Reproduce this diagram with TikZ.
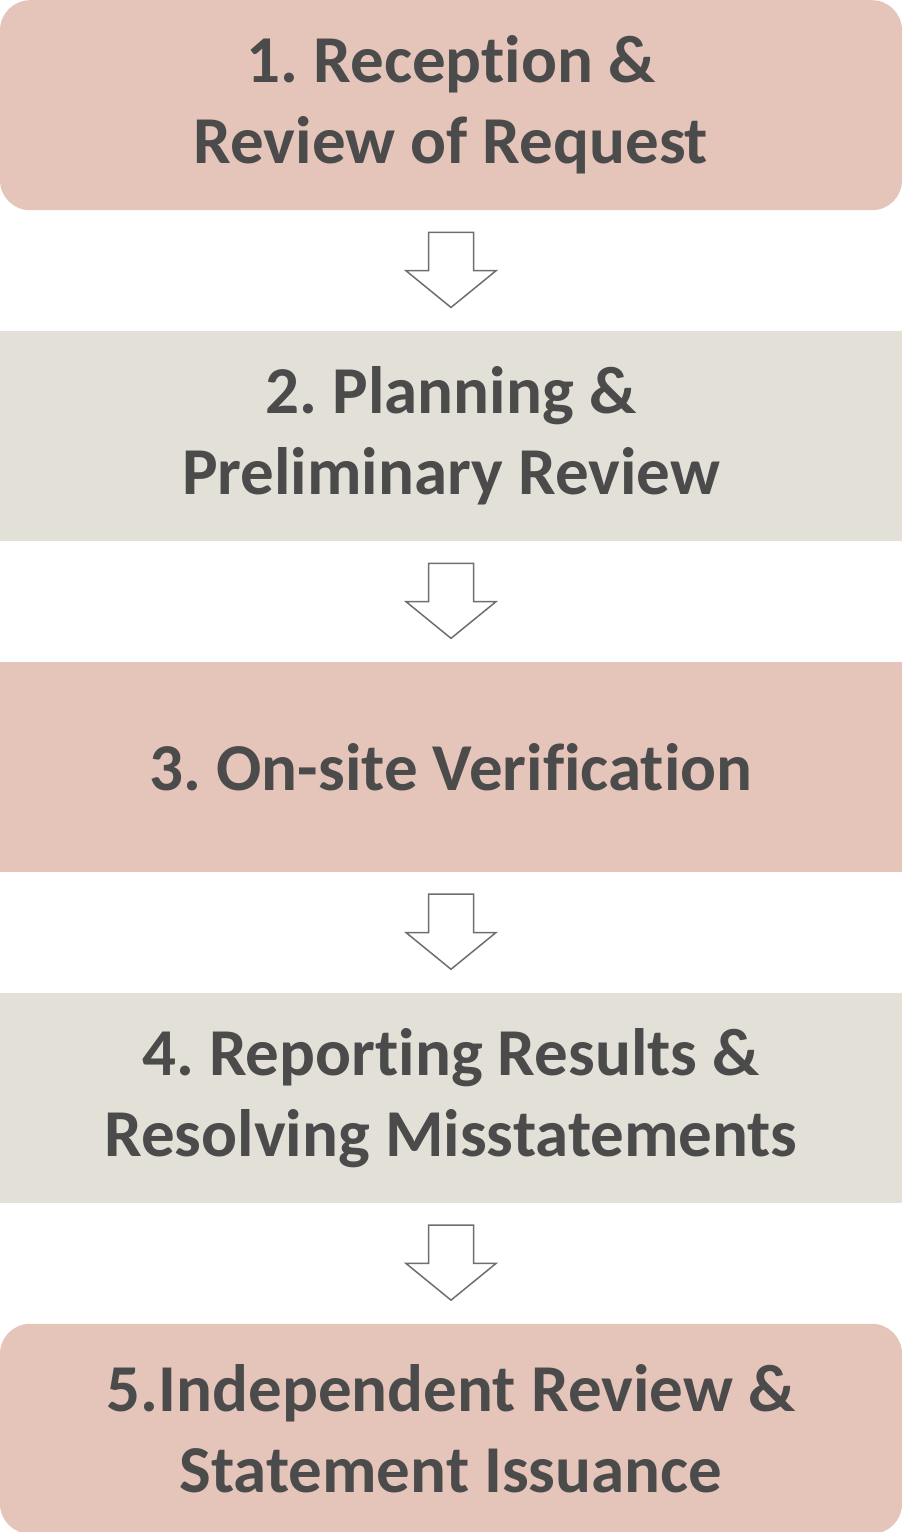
\documentclass[tikz,border=0pt]{standalone}
\usepackage{fontspec}
\setmainfont{Carlito}[Ligatures=NoCommon]
\usetikzlibrary{positioning,shapes.arrows,calc}
\definecolor{pinkbox}{HTML}{E5C4B9}
\definecolor{greybox}{HTML}{E3E1D7}
\definecolor{steptext}{HTML}{4B4B4B}
\definecolor{arrowline}{HTML}{6E6E6E}

\begin{document}
\begin{tikzpicture}[x=1pt,y=1pt,
    stepbox/.style={minimum width=902pt,minimum height=210pt,inner sep=0pt,
        align=center,text=steptext,font=\fontsize{67}{81}\selectfont\bfseries\frenchspacing},
    pinkstep/.style={stepbox,fill=pinkbox,rounded corners=30pt},
    greystep/.style={stepbox,fill=greybox},
    downarrow/.style={single arrow,draw=arrowline,line width=1.5pt,fill=white,
        rotate=-90,anchor=tip,minimum height=75pt,minimum width=90pt,
        single arrow head extend=22.5pt,single arrow tip angle=101.6,
        inner xsep=0pt,inner ysep=21.75pt},
    node distance=120.5pt]
\useasboundingbox (0,0) rectangle (902,-1532);
\node[pinkstep,anchor=north] (s1) at (451,0) {1. Reception \&\\Review of Request};
\node[greystep,below=of s1] (s2) {2. Planning \&\\Preliminary Review};
\node[pinkstep,below=of s2,rounded corners=0pt] (s3) {3. On-site Verification};
\node[greystep,below=of s3] (s4) {4. Reporting Results \&\\Resolving Misstatements};
\node[pinkstep,below=of s4] (s5) {5.Independent Review \&\\Statement Issuance};
% arrows between steps
\foreach \a/\b in {s1/s2,s2/s3,s3/s4,s4/s5}
    \node[downarrow] (a\a) at ($(\b.north)+(0,22.5)$) {};
\end{tikzpicture}
\end{document}
